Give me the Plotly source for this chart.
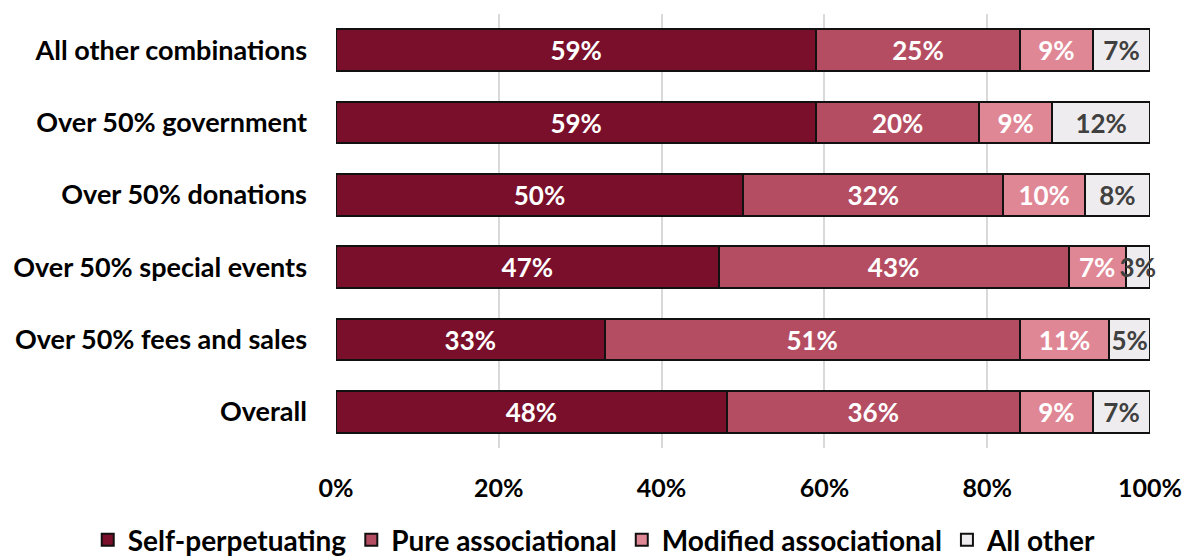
import plotly.graph_objects as go

categories = ["Overall", "Over 50% fees and sales", "Over 50% special events",
              "Over 50% donations", "Over 50% government", "All other combinations"]
series_names = ["Self-perpetuating", "Pure associational", "Modified associational", "All other"]
self_perp = [48, 33, 47, 50, 59, 59]
pure_assoc = [36, 51, 43, 32, 20, 25]
mod_assoc = [9, 11, 7, 10, 9, 9]
all_other = [7, 5, 3, 8, 12, 7]
tick_vals = [0, 20, 40, 60, 80, 100]
tick_text = ["0%", "20%", "40%", "60%", "80%", "100%"]

colors = ["#7A0F2B", "#B54D62", "#E08796", "#EEECEE"]
text_colors = ["white", "white", "white", "#404040"]
FONT = "Lato"

fig = go.Figure()
for name, vals, c, tc in zip(series_names, [self_perp, pure_assoc, mod_assoc, all_other], colors, text_colors):
    fig.add_trace(go.Bar(
        y=categories, x=vals, name=name, orientation="h",
        marker=dict(color=c, line=dict(color="#111111", width=2)),
        text=[f"{v}%" for v in vals], textposition="inside", textangle=0,
        insidetextanchor="middle", constraintext="none",
        textfont=dict(family=FONT, size=26, color=tc, weight="bold"),
        cliponaxis=False,
    ))

fig.update_layout(
    barmode="stack", bargap=0.42,
    width=1186, height=558,
    margin=dict(l=336, r=36, t=14, b=110, autoexpand=False),
    plot_bgcolor="white", paper_bgcolor="white",
    font=dict(family=FONT, size=27, color="black", weight="bold"),
    xaxis=dict(range=[0, 100], tickvals=tick_vals, ticktext=tick_text, automargin=False,
               ticklabeloverflow="allow",
               showgrid=True, gridcolor="#D9D9D9", gridwidth=1.5, zeroline=False,
               ticklabelstandoff=23, tickfont=dict(size=25, family=FONT, color="black", weight="bold")),
    yaxis=dict(tickfont=dict(size=27, family=FONT, color="black", weight="bold"), automargin=False,
               ticklabelstandoff=28, showgrid=False),
    legend=dict(orientation="h", x=-0.305, xanchor="left", y=-0.212, yanchor="middle",
                font=dict(size=28, family=FONT, color="black", weight="bold"),
                traceorder="normal", itemwidth=30),
    showlegend=True,
)
fig.write_html("out.html", config={"displayModeBar": False},
               post_script="document.body.style.margin='0';")
